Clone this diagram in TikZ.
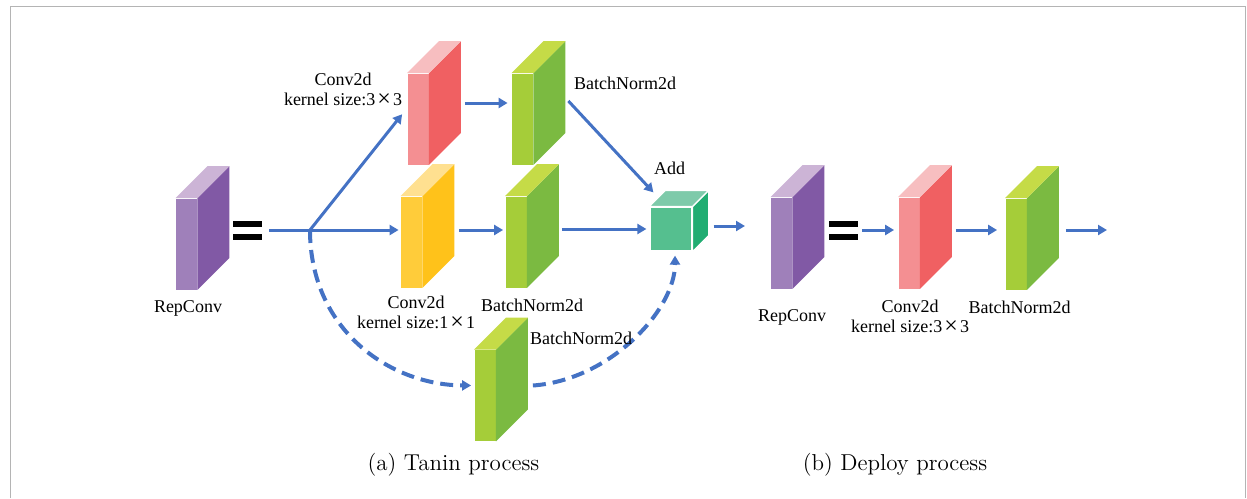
\documentclass[tikz,border=0pt]{standalone}
\usepackage{fontspec}
\usepackage{xcolor}
\usepackage{tikz}
\usetikzlibrary{arrows.meta}

\newfontfamily\labelfont{Liberation Serif}

\definecolor{repfront}{HTML}{9F80BA}
\definecolor{repside}{HTML}{8159A5}
\definecolor{reptop}{HTML}{CCB4D6}
\definecolor{convfront}{HTML}{F48F92}
\definecolor{convside}{HTML}{F06062}
\definecolor{convtop}{HTML}{F7BEC0}
\definecolor{onefront}{HTML}{FFCC3A}
\definecolor{oneside}{HTML}{FFC21A}
\definecolor{onetop}{HTML}{FFE090}
\definecolor{bnfront}{HTML}{A5CD39}
\definecolor{bnside}{HTML}{7BBA41}
\definecolor{bntop}{HTML}{C5DB47}
\definecolor{addfront}{HTML}{55BF8F}
\definecolor{addside}{HTML}{21AD72}
\definecolor{addtop}{HTML}{7ECAAA}
\definecolor{blueline}{HTML}{4472C4}
\definecolor{framegray}{HTML}{B4B4B4}

% side and top faces behind a front-face node
\newcommand{\slabdepth}[5][]{%
  \path[fill=#3,#1] (#2.north east) -- ++(#5,#5) -- ([shift={(#5,#5)}]#2.south east)
    -- (#2.south east) -- cycle;
  \path[fill=#4,#1] (#2.north west) -- (#2.north east) -- ++(#5,#5)
    -- ([shift={(#5,#5)}]#2.north west) -- cycle;
}
\newcommand{\ksize}[1]{kernel size:#1\kern1pt\raisebox{-0.5pt}{\large×}\kern1pt#1}

\begin{document}
\begin{tikzpicture}[
    x=0.5pt, y=-0.5pt,
    slab/.style={rectangle, inner sep=0pt, minimum width=10.5pt,
        minimum height=45.5pt, fill=#1},
    cube/.style={rectangle, inner sep=0pt, minimum width=21pt,
        minimum height=22pt, fill=#1, draw=white, line width=0.6pt},
    eqsign/.style={rectangle, inner sep=0pt, minimum width=14.5pt,
        minimum height=9.5pt,
        path picture={
            \fill[black] (path picture bounding box.north west) rectangle
                ([yshift=-3pt]path picture bounding box.north east);
            \fill[black] (path picture bounding box.south west) rectangle
                ([yshift=3pt]path picture bounding box.south east);}},
    link/.style={line width=1.5pt, blueline},
    flow/.style={link, -{Triangle[length=4.5pt,width=5pt]}, shorten >=1pt},
    dflow/.style={flow, line width=2pt, dash pattern=on 6.5pt off 3.5pt},
    lbl/.style={font=\labelfont\fontsize{9}{10}\selectfont, align=center,
        inner sep=0pt},
    caption/.style={font=\fontsize{11.5}{13}\selectfont, inner sep=0pt},
]
\useasboundingbox (0,0) rectangle (1247,498);
\draw[framegray, line width=0.8pt]
    (10.5,498) -- (10.5,6.5) -- (1245.5,6.5) -- (1245.5,498);

% Training branches
\node[slab=repfront] (rep1) at (186.5,244) {};
\slabdepth{rep1}{repside}{reptop}{16pt}
\node[eqsign] (eq1) at (247.5,230) {};
\coordinate (split) at (310,230);

\node[slab=convfront] (conv3) at (418,119) {};
\slabdepth{conv3}{convside}{convtop}{16pt}
\node[slab=bnfront] (bn3) at (522.5,119) {};
\slabdepth{bn3}{bnside}{bntop}{16pt}

\node[slab=onefront] (conv1) at (411.5,242) {};
\slabdepth{conv1}{oneside}{onetop}{16pt}
\node[slab=bnfront] (bn1) at (516,242) {};
\slabdepth{bn1}{bnside}{bntop}{16pt}

\node[slab=bnfront] (bnid) at (485,395.5) {};
\slabdepth{bnid}{bnside}{bntop}{16pt}

\node[cube=addfront] (add) at (671,229) {};
\slabdepth[draw=white, line width=0.6pt]{add}{addside}{addtop}{8pt}
\coordinate (outa) at (747,226);

\draw[link, shorten <=3.5pt] (eq1.east) -- (split);
\draw[flow, shorten >=4pt] (split) -- ([yshift=5.5pt]conv3.west);
\draw[flow] (split) -- (conv1.west |- split);
\draw[flow, shorten <=18pt, shorten >=2pt] ([yshift=8pt]conv3.east) -- ([yshift=8pt]bn3.west);
\draw[flow, shorten >=0pt] ([shift={(17.5pt,9pt)}]bn3.east) -- ([shift={(2pt,7pt)}]add.north west);
\draw[flow, shorten <=18.5pt] (conv1.east |- split) -- (bn1.west |- split);
\draw[flow, shorten <=17.5pt, shorten >=1.5pt] (bn1.east |- add.west) -- (add.west);
\draw[flow, shorten <=10.5pt] ([yshift=1.5pt]add.east) -- (outa);

% identity branch
\draw[dflow, shorten >=1.5pt] (split) .. controls (310,330) and (390,385) .. ([yshift=5pt]bnid.west);
\draw[dflow, shorten >=2pt] ([shift={(18.5pt,5pt)}]bnid.east) .. controls (610,380) and (675,310) .. ([xshift=2pt]add.south);

\node[lbl] (conv3lbl) at (343,90) {Conv2d\\\ksize{3}};
\node[lbl] (bn3lbl) at (625,83) {BatchNorm2d};
\node[lbl] (addlbl) at (669.5,168) {Add};
\node[lbl] (conv1lbl) at (416,312.5) {Conv2d\\\ksize{1}};
\node[lbl] (bn1lbl) at (532,305) {BatchNorm2d};
\node[lbl] (bnidlbl) at (581,338) {BatchNorm2d};
\node[lbl] (rep1lbl) at (188,308) {RepConv};

% Deploy chain
\node[slab=repfront] (rep2) at (781.5,243) {};
\slabdepth{rep2}{repside}{reptop}{16pt}
\node[eqsign] (eq2) at (843.5,230) {};
\node[slab=convfront] (conv) at (909,243) {};
\slabdepth{conv}{convside}{convtop}{16pt}
\node[slab=bnfront] (bn) at (1016,244) {};
\slabdepth{bn}{bnside}{bntop}{16pt}
\coordinate (outb) at (1109,230);

\draw[flow, shorten <=2pt, shorten >=2pt] (eq2.east) -- (conv.west |- eq2.east);
\draw[flow, shorten <=18pt, shorten >=4pt] (conv.east |- eq2.east) -- (bn.west |- eq2.east);
\draw[flow, shorten <=19.5pt] (bn.east |- eq2.east) -- (outb);

\node[lbl] (rep2lbl) at (792,317) {RepConv};
\node[lbl] (convlbl) at (910,317) {Conv2d\\\ksize{3}};
\node[lbl] (bnlbl) at (1019.5,307) {BatchNorm2d};

\node[caption] (capa) at (453.5,465) {(a) Tanin process};
\node[caption] (capb) at (895,465) {(b) Deploy process};
\end{tikzpicture}
\end{document}
